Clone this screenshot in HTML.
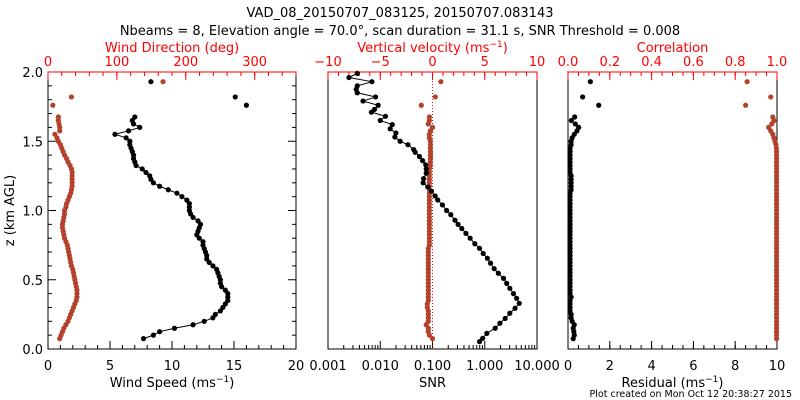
<!DOCTYPE html>
<html><head><meta charset="utf-8"><style>
html,body{margin:0;padding:0;background:#fff;}
svg{display:block;font-family:"DejaVu Sans","Liberation Sans",sans-serif;}
</style></head><body>
<svg id="c" width="800" height="400" viewBox="0 0 800 400">
<text x="400" y="17" text-anchor="middle" font-size="13">VAD_08_20150707_083125, 20150707.083143</text>
<text x="400" y="35" text-anchor="middle" font-size="13">Nbeams = 8, Elevation angle = 70.0°, scan duration = 31.1 s, SNR Threshold = 0.008</text>
<text x="792" y="397" text-anchor="end" font-size="9.5">Plot created on Mon Oct 12 20:38:27 2015</text>
</svg>
<script>
// ---------- data ----------
const hMain=[0.075,0.1,0.125,0.15,0.175,0.2,0.225,0.25,0.275,0.3,0.325,0.35,0.375,0.4,0.425,0.45,0.475,0.5,0.525,0.55,0.575,0.6,0.625,0.65,0.675,0.7,0.725,0.75,0.775,0.8,0.825,0.85,0.875,0.9,0.925,0.95,0.975,1.0,1.025,1.05,1.075,1.1,1.125,1.15,1.175,1.2,1.225,1.25,1.275,1.3,1.325,1.35,1.375,1.4,1.425,1.45,1.475,1.5,1.525,1.55,1.575,1.6,1.625,1.65,1.675];
const windSpeed=[7.7,8.5,9.0,10.2,11.7,12.6,13.3,13.5,13.9,14.1,14.3,14.5,14.5,14.5,14.3,14.0,13.9,13.9,13.8,13.7,13.6,13.3,13.0,12.8,12.8,12.7,12.6,12.5,12.5,12.2,12.0,12.1,12.2,12.3,12.1,11.7,11.5,11.4,11.4,11.4,11.2,10.8,10.4,9.7,9.0,8.5,8.3,8.2,7.9,7.6,7.1,7.0,6.9,6.9,6.8,6.7,6.6,6.6,6.3,5.4,6.5,7.4,6.9,6.8,7.0];
const windDir=[17,19,21,23,26,29,31,33,35,37,39,41,42,42,42,41,40,39,38,37,36,34,33,32,31,30,29,28,26,24,23,22,21,21,22,23,24,24,26,27,29,31,33,34,35,35,35,35,35,34,32,29,27,24,22,20,18,15,13,10,17,17,16,15,15];
const extraH=[1.76,1.82,1.93];
const extraSpeed=[16.0,15.1,8.3];
const extraDir=[7,34,167];
const vertVel=[0.0,-0.3,-0.4,-0.4,-0.6,-0.4,-0.4,-0.4,-0.4,-0.5,-0.5,-0.4,-0.4,-0.4,-0.4,-0.4,-0.4,-0.4,-0.4,-0.4,-0.4,-0.4,-0.4,-0.4,-0.4,-0.4,-0.4,-0.3,-0.3,-0.3,-0.3,-0.3,-0.3,-0.3,-0.3,-0.3,-0.3,-0.3,-0.3,-0.3,-0.3,-0.3,-0.3,-0.3,-0.3,-0.3,-0.3,-0.3,-0.3,-0.3,-0.2,-0.2,-0.2,-0.2,-0.2,-0.2,-0.2,-0.2,-0.3,-0.3,-0.2,0.0,-0.4,-0.3,-0.3];
const extraVel=[-1.07,0.27,0.8];
const hSnr=[0.053,0.077,0.113,0.15,0.186,0.22,0.258,0.294,0.33,0.366,0.40,0.438,0.474,0.51,0.547,0.58,0.62,0.655,0.69,0.727,0.76,0.80,0.835,0.87,0.90,0.93,0.97,1.00,1.04,1.076,1.105,1.14,1.17,1.20,1.23,1.27,1.30,1.33,1.36,1.39,1.42,1.44,1.475,1.50,1.53,1.56,1.59,1.62,1.65,1.68,1.71,1.73,1.76,1.79,1.82,1.85,1.875,1.90,1.93,1.96,1.99];
const snrLog=[-0.10,-0.04,0.04,0.20,0.29,0.39,0.48,0.58,0.66,0.61,0.55,0.48,0.42,0.36,0.26,0.18,0.11,0.05,-0.03,-0.10,-0.19,-0.28,-0.36,-0.44,-0.51,-0.57,-0.65,-0.73,-0.81,-0.90,-0.95,-1.02,-1.09,-1.18,-1.17,-1.12,-1.12,-1.13,-1.19,-1.25,-1.33,-1.36,-1.47,-1.62,-1.72,-1.70,-1.81,-1.77,-2.00,-1.90,-2.17,-2.11,-2.04,-2.33,-2.09,-2.44,-2.46,-2.44,-2.16,-2.60,-2.44];
const correlation=[0.998,0.998,0.998,0.998,0.998,0.998,0.998,0.998,0.998,0.998,0.998,0.998,0.998,0.998,0.998,0.998,0.998,0.998,0.998,0.998,0.998,0.998,0.998,0.998,0.998,0.998,0.998,0.998,0.998,0.998,0.998,0.998,0.998,0.998,0.998,0.998,0.998,0.998,0.998,0.998,0.998,0.998,0.998,0.998,0.998,0.998,0.998,0.998,0.998,0.998,0.998,0.998,0.998,0.998,0.998,0.997,0.995,0.99,0.985,0.98,0.97,0.96,0.975,0.985,0.98];
const extraCorr=[0.85,0.97,0.857];
const residual=[0.25,0.3,0.28,0.25,0.3,0.2,0.15,0.15,0.1,0.1,0.1,0.1,0.15,0.1,0.1,0.1,0.1,0.1,0.1,0.1,0.1,0.1,0.1,0.1,0.1,0.1,0.1,0.1,0.1,0.1,0.1,0.1,0.1,0.1,0.1,0.1,0.1,0.1,0.1,0.1,0.1,0.1,0.1,0.15,0.15,0.15,0.15,0.15,0.1,0.1,0.1,0.1,0.1,0.1,0.1,0.1,0.15,0.15,0.2,0.3,0.43,0.51,0.35,0.16,0.32];
const extraRes=[1.47,0.70,1.07];
// ---------- layout ----------
const svg=document.getElementById('c');
const NS='http://www.w3.org/2000/svg';
const TOP=72,BOT=349;
const RED='#ff0000',DRED='#b3412b';
function el(tag,a,parent){const e=document.createElementNS(NS,tag);for(const k in a)e.setAttribute(k,a[k]);(parent||svg).appendChild(e);return e;}
function yS(h){return BOT-(h/2)*(BOT-TOP);}
function lin(d0,d1,r0,r1){return v=>r0+(v-d0)/(d1-d0)*(r1-r0);}
const panels=[{l:48,r:296},{l:328,r:537},{l:568,r:777}];
function frame(p,name){
  const r=el('rect',{x:p.l,y:TOP,width:p.r-p.l,height:BOT-TOP,fill:'none',stroke:'#000','stroke-width':1});
  
  
}
function xAxis(p,sc,majors,labels,minors,top,color,title,name){
  const g=el('g',{});
  
  
  const y0=top?TOP:BOT,dir=top?1:-1;
  if(top)el('line',{x1:p.l,x2:p.r,y1:TOP,y2:TOP,stroke:color},g);
  minors.forEach(v=>{const x=sc(v);el('line',{x1:x,x2:x,y1:y0,y2:y0+dir*4,stroke:color},g);});
  majors.forEach((v,i)=>{const x=sc(v);el('line',{x1:x,x2:x,y1:y0,y2:y0+dir*8,stroke:color},g);
    const t=el('text',{x:x,y:top?TOP-6:BOT+21,'text-anchor':'middle','font-size':13,fill:color},g);t.textContent=labels[i];});
  const tt=el('text',{x:(p.l+p.r)/2,y:top?TOP-20:BOT+38,'text-anchor':'middle','font-size':13,fill:color},g);
  tt.innerHTML=title;
}
function yTicks(p,labelsOn){
  const g=el('g',{});
  
  
  for(let i=0;i<=20;i++){const v=i/10,y=yS(v),len=(i%5==0)?8:4;
    el('line',{x1:p.l,x2:p.l+len,y1:y,y2:y,stroke:'#000'},g);
    el('line',{x1:p.r,x2:p.r-len,y1:y,y2:y,stroke:'#000'},g);
    if(labelsOn&&i%5==0){const t=el('text',{x:p.l-5,y:y+5,'text-anchor':'end','font-size':13},g);t.textContent=v.toFixed(1);}}
  if(labelsOn){const t=el('text',{x:14,y:(TOP+BOT)/2,'text-anchor':'middle','font-size':13,transform:`rotate(-90 14 ${(TOP+BOT)/2})`},g);
    t.textContent='z (km AGL)';}
}
function range(a,b,s){const o=[];for(let v=a;v<=b+1e-9;v+=s)o.push(+v.toFixed(4));return o;}
function dots(xs,hs,sc,color,name,line){
  const g=el('g',{});
  
  
  if(line){el('polyline',{points:xs.map((v,i)=>sc(v)+','+yS(hs[i])).join(' '),fill:'none',stroke:color,'stroke-width':1},g);}
  xs.forEach((v,i)=>{const c=el('circle',{cx:sc(v),cy:yS(hs[i]),r:2.6,fill:color},g);
    
    });
}
// Panel 1
const p1=panels[0];
const sSpd=lin(0,20,p1.l,p1.r), sDir=lin(0,360,p1.l,p1.r);
frame(p1,'wind-panel-frame');
yTicks(p1,true);
xAxis(p1,sSpd,[0,5,10,15,20],['0','5','10','15','20'],range(0,20,1),false,'#000','Wind Speed (ms<tspan dy="-5" font-size="9">−1</tspan><tspan dy="5">)</tspan>','wind-speed-x-axis');
xAxis(p1,sDir,[0,100,200,300],['0','100','200','300'],range(0,360,20),true,RED,'Wind Direction (deg)','wind-direction-x-axis');
dots(windDir,hMain,sDir,DRED,'wind-direction-series',false);
dots(extraDir,extraH,sDir,DRED,'wind-direction-outliers',false);
dots(windSpeed,hMain,sSpd,'#000','wind-speed-series',true);
dots(extraSpeed,extraH,sSpd,'#000','wind-speed-outliers',false);
// Panel 2
const p2=panels[1];
const sLog=lin(-3,1,p2.l,p2.r), sVel=lin(-10,10,p2.l,p2.r);
frame(p2,'snr-panel-frame');
const logMin=[];for(let d=-3;d<1;d++)for(let k=2;k<=9;k++)logMin.push(d+Math.log10(k));
xAxis(p2,sLog,[-3,-2,-1,0,1],['0.001','0.010','0.100','1.000','10.000'],logMin,false,'#000','SNR','snr-x-axis');
xAxis(p2,sVel,[-10,-5,0,5,10],['−10','−5','0','5','10'],range(-10,10,1),true,RED,'Vertical velocity (ms<tspan dy="-5" font-size="9">−1</tspan><tspan dy="5">)</tspan>','vertical-velocity-x-axis');
const zl=el('line',{x1:sVel(0),x2:sVel(0),y1:TOP,y2:BOT,stroke:RED,'stroke-dasharray':'1,2'});


dots(vertVel,hMain,sVel,DRED,'vertical-velocity-series',false);
dots(extraVel,extraH,sVel,DRED,'vertical-velocity-outliers',false);
dots(snrLog,hSnr,sLog,'#000','snr-series',true);
// Panel 3
const p3=panels[2];
const sRes=lin(0,10,p3.l,p3.r), sCor=lin(0,1,p3.l,p3.r);
frame(p3,'residual-panel-frame');
xAxis(p3,sRes,[0,2,4,6,8,10],['0','2','4','6','8','10'],range(0,10,0.5),false,'#000','Residual (ms<tspan dy="-5" font-size="9">−1</tspan><tspan dy="5">)</tspan>','residual-x-axis');
xAxis(p3,sCor,[0,0.2,0.4,0.6,0.8,1],['0.0','0.2','0.4','0.6','0.8','1.0'],range(0,1,0.05),true,RED,'Correlation','correlation-x-axis');
dots(correlation,hMain,sCor,DRED,'correlation-series',false);
dots(extraCorr,extraH,sCor,DRED,'correlation-outliers',false);
dots(residual,hMain,sRes,'#000','residual-series',false);
dots(extraRes,extraH,sRes,'#000','residual-outliers',false);
</script>
</body></html>
